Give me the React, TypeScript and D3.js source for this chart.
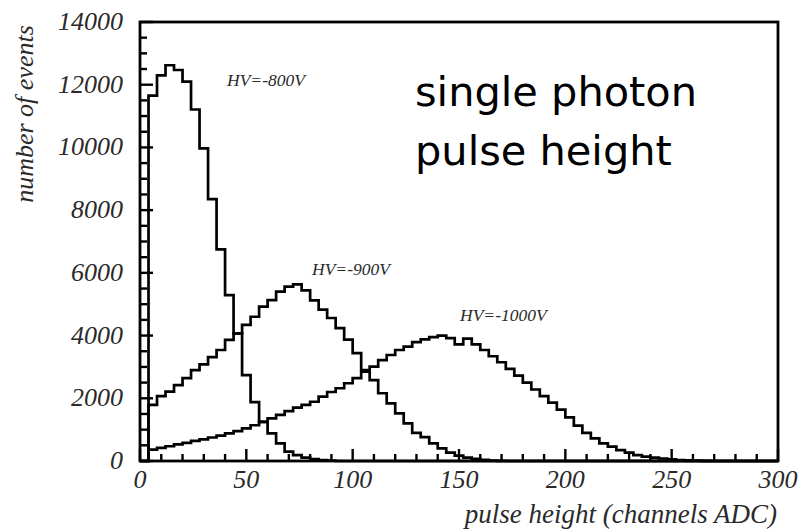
import React from "react";
import * as d3 from "d3";

const binWidth = 4;
const hv800 = [0, 11650, 12300, 12620, 12470, 12100, 11210, 9970, 8350, 6750, 5290, 4070, 2740, 1880, 1250, 880, 560, 300, 190, 110, 60, 30, 10,
  0, 0, 0, 0, 0, 0, 0, 0, 0, 0, 0, 0, 0, 0, 0, 0, 0, 0, 0, 0, 0, 0, 0, 0, 0, 0, 0, 0, 0, 0, 0, 0, 0, 0, 0, 0, 0, 0, 0, 0, 0, 0, 0, 0, 0, 0, 0, 0, 0, 0, 0, 0];
const hv900 = [0, 1790, 2070, 2210, 2420, 2640, 2900, 3080, 3310, 3540, 3860, 4070, 4340, 4600, 4920, 5130, 5400, 5560, 5630, 5440, 5120, 4830, 4560, 4240, 3870, 3440, 2900, 2580, 2160, 1840, 1520, 1200, 900, 760, 560, 400, 270, 170, 110, 65, 35, 15, 5,
  0, 0, 0, 0, 0, 0, 0, 0, 0, 0, 0, 0, 0, 0, 0, 0, 0, 0, 0, 0, 0, 0, 0, 0, 0, 0, 0, 0, 0, 0, 0, 0];
const hv1000 = [0, 360, 420, 470, 530, 580, 640, 690, 750, 810, 880, 950, 1040, 1140, 1250, 1360, 1470, 1590, 1700, 1790, 1890, 2050, 2200, 2320, 2480, 2640, 2850, 3010, 3220, 3380, 3540, 3650, 3790, 3880, 3950, 4000, 3920, 3720, 3900, 3720, 3540, 3340, 3150, 2940, 2720, 2500, 2280, 2070, 1860, 1640, 1390, 1130, 900, 720, 560, 460, 350, 265, 190, 140, 105, 80, 50, 30, 20, 10, 5,
  0, 0, 0, 0, 0, 0, 0, 0];

const seriesLabels = ["HV=-800V", "HV=-900V", "HV=-1000V"];
const xTickLabels = [0, 50, 100, 150, 200, 250, 300];
const yTickLabels = [0, 2000, 4000, 6000, 8000, 10000, 12000, 14000];

export default function App() {
  const L = 140, R = 778, T = 22, B = 461;
  const x = d3.scaleLinear().domain([0, 300]).range([L, R]);
  const y = d3.scaleLinear().domain([0, 14000]).range([B, T]);

  const toPts = (arr: number[]) => {
    const pts: [number, number][] = arr.map((v, i) => [i * binWidth, v]);
    pts.push([300, 0]);
    return pts;
  };
  const line = d3
    .line<[number, number]>()
    .x((d) => x(d[0]))
    .y((d) => y(d[1]))
    .curve(d3.curveStepAfter);

  const series = [hv800, hv900, hv1000];
  const labelPos = [
    { x: 227, y: 86 },
    { x: 312, y: 275 },
    { x: 460, y: 321 },
  ];

  const yMinor = d3.range(0, 14001, 500);
  const xMinor = d3.range(0, 301, 10);
  const serif = "'Liberation Serif', 'DejaVu Serif', serif";
  const textCol = "#2a2a2a";

  return (
    <svg
      width={801}
      height={531}
      style={{ position: "absolute", left: 0, top: 0, background: "#fff" }}
    >
      <rect x={0} y={0} width={801} height={531} fill="#fff" />
      {series.map((s, i) => (
        <path
          key={i}
          d={line(toPts(s)) || ""}
          fill="none"
          stroke="#000"
          strokeWidth={2.7}
          strokeLinejoin="miter"
        />
      ))}
      {yMinor.map((v) => (
        <line
          key={"y" + v}
          x1={L}
          x2={L + (v % 2000 === 0 ? 13 : 7)}
          y1={y(v)}
          y2={y(v)}
          stroke="#000"
          strokeWidth={2.4}
        />
      ))}
      {xMinor.map((v) => (
        <line
          key={"x" + v}
          x1={x(v)}
          x2={x(v)}
          y1={B}
          y2={B - (v % 50 === 0 ? 12 : 7)}
          stroke="#000"
          strokeWidth={2.4}
        />
      ))}
      <rect
        x={L}
        y={T}
        width={R - L}
        height={B - T}
        fill="none"
        stroke="#000"
        strokeWidth={2.8}
      />
      {yTickLabels.map((v) => (
        <text
          key={"yl" + v}
          x={123}
          y={y(v) + 8}
          textAnchor="end"
          fontFamily={serif}
          fontStyle="italic"
          fontSize={26}
          fill={textCol}
        >
          {v}
        </text>
      ))}
      {xTickLabels.map((v) => (
        <text
          key={"xl" + v}
          x={x(v)}
          y={488}
          textAnchor="middle"
          fontFamily={serif}
          fontStyle="italic"
          fontSize={26}
          fill={textCol}
        >
          {v}
        </text>
      ))}
      <text
        x={777}
        y={523}
        textAnchor="end"
        fontFamily={serif}
        fontStyle="italic"
        fontSize={27}
        fill={textCol}
      >
        pulse height (channels ADC)
      </text>
      <text
        transform="translate(33,114) rotate(-90)"
        textAnchor="middle"
        fontFamily={serif}
        fontStyle="italic"
        fontSize={26}
        fill={textCol}
      >
        number of events
      </text>
      {seriesLabels.map((s, i) => (
        <text
          key={s}
          x={labelPos[i].x}
          y={labelPos[i].y}
          fontFamily={serif}
          fontStyle="italic"
          fontSize={17.5}
          fill={textCol}
        >
          {s}
        </text>
      ))}
      <text
        x={415}
        y={106}
        fontFamily="'DejaVu Sans', Verdana, sans-serif"
        fontSize={41.5}
        fill="#000"
      >
        single photon
      </text>
      <text
        x={415}
        y={165}
        fontFamily="'DejaVu Sans', Verdana, sans-serif"
        fontSize={41.5}
        fill="#000"
      >
        pulse height
      </text>
    </svg>
  );
}
